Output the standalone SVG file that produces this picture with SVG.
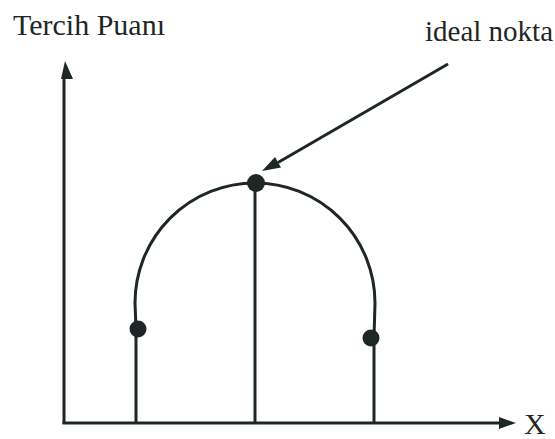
<svg xmlns="http://www.w3.org/2000/svg" width="555" height="439" viewBox="0 0 555 439">
<style>
.ln{stroke:#1e2626;stroke-width:3;fill:none;stroke-linecap:butt}
.dot{fill:#1e2626}
text{font-family:"Times New Roman","Liberation Serif","DejaVu Serif",serif;font-size:29px;fill:#1e2626}
</style>
<rect width="555" height="439" fill="#fff"/>
<g id="axes">
<line class="ln" x1="64" y1="424" x2="64" y2="76"/>
<polygon class="dot" points="65,61 61,79 73,79"/>
<line class="ln" x1="62.5" y1="423" x2="502" y2="423"/>
<polygon class="dot" points="499,417 516,423 499,429"/>
</g>
<g id="curve">
<path class="ln" d="M136,328 L135,303 A120,120 0 0 1 375,303 L374,338"/>
</g>
<g id="stems">
<line class="ln" x1="136" y1="328" x2="136" y2="423"/>
<line class="ln" x1="255" y1="183" x2="255" y2="423"/>
<line class="ln" x1="374" y1="338" x2="374" y2="423"/>
</g>
<g id="point-left"><circle class="dot" cx="138" cy="329" r="8.5"/></g>
<g id="point-ideal"><circle class="dot" cx="256" cy="183" r="9"/></g>
<g id="point-right"><circle class="dot" cx="371" cy="338" r="8.5"/></g>
<g id="connectors">
<line class="ln" x1="448" y1="64" x2="278" y2="162.5"/>
<polygon class="dot" points="262,171 281,167.5 275,157"/>
</g>
<g id="labels">
<text x="13" y="35" style="font-size:30px">Tercih Puanı</text>
<text x="425" y="41">ideal nokta</text>
<text x="524" y="434" style="font-size:30px">X</text>
</g>
</svg>
